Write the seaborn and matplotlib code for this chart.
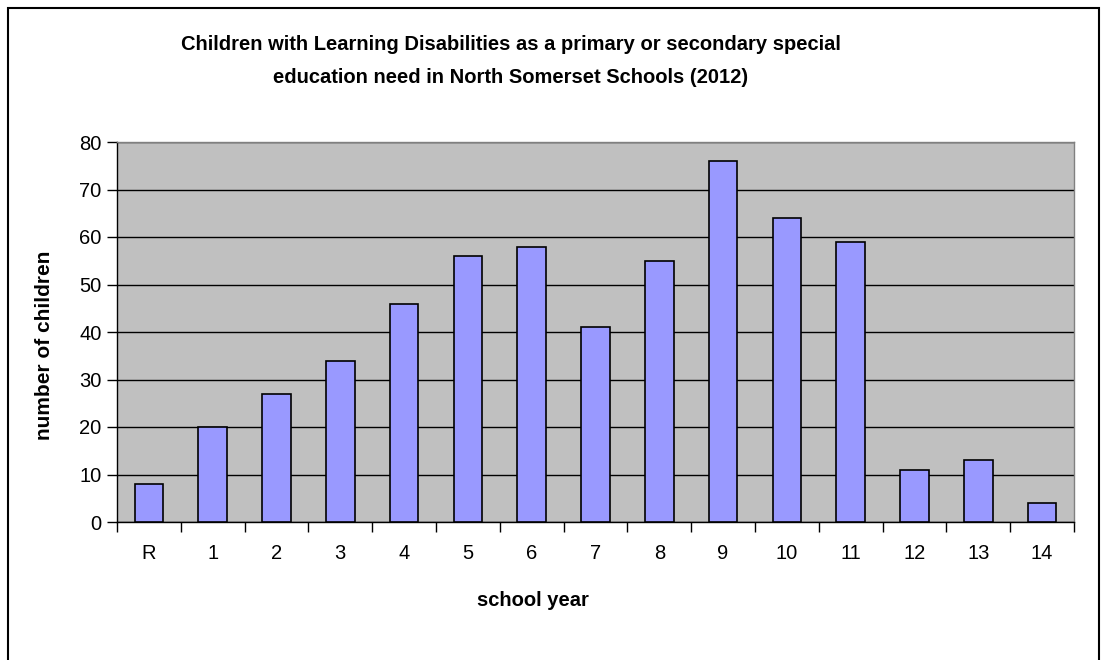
import matplotlib
matplotlib.use("Agg")
import matplotlib.pyplot as plt
import seaborn as sns
import pandas as pd
from matplotlib.patches import Rectangle

# values
years = ["R", "1", "2", "3", "4", "5", "6", "7", "8", "9", "10", "11", "12", "13", "14"]
children = [8, 20, 27, 34, 46, 56, 58, 41, 55, 76, 64, 59, 11, 13, 4]

title = ("Children with Learning Disabilities as a primary or secondary special\n"
         "education need in North Somerset Schools (2012)")

sns.set_style("white")
plt.rcParams["font.family"] = ["Liberation Sans", "DejaVu Sans"]
plt.rcParams["text.color"] = "black"
plt.rcParams["xtick.color"] = "black"
plt.rcParams["ytick.color"] = "black"

df = pd.DataFrame({"year": years, "children": children})

W, H = 1107, 660
fig = plt.figure(figsize=(W / 100, H / 100), dpi=100)
ax = fig.add_axes([117 / W, 1 - 522 / H, (1074 - 117) / W, (522 - 142) / H])
ax.set_facecolor("#C0C0C0")

sns.barplot(data=df, x="year", y="children", order=years, color="#9999FF",
            saturation=1, width=0.45, edgecolor="black", linewidth=1.2, ax=ax, zorder=3)

ax.set_ylim(0, 80)
ax.set_yticks(range(0, 81, 10))
ax.set_xlim(-0.5, len(years) - 0.5)
ax.yaxis.grid(True, color="black", linewidth=1, zorder=1)
ax.set_axisbelow(True)

# category boundaries get the tick marks, labels sit in the middle
ax.set_xticks([i - 0.5 for i in range(len(years) + 1)], minor=True)
ax.tick_params(axis="x", which="major", length=0, labelsize=14.5, pad=16)
ax.tick_params(axis="x", which="minor", length=7, width=1, color="black", direction="out")
ax.tick_params(axis="y", length=7, width=1, color="black", direction="out", labelsize=14.5, pad=4)
ax.xaxis.set_ticks_position("bottom")
ax.yaxis.set_ticks_position("left")

for side in ["left", "bottom"]:
    ax.spines[side].set_color("black")
    ax.spines[side].set_linewidth(1)
for side in ["top", "right"]:
    ax.spines[side].set_color("#808080")
    ax.spines[side].set_linewidth(1)

ax.set_xlabel("")
ax.set_ylabel("")
fig.text(533 / W, 1 - 600 / H, "school year", ha="center", va="center",
         fontsize=14.5, fontweight="bold")
fig.text(45 / W, 1 - 345 / H, "number of children", ha="center", va="center",
         rotation=90, fontsize=15, fontweight="bold")
fig.text(511 / W, 1 - 61 / H, title, ha="center", va="center",
         fontsize=14.5, fontweight="bold", linespacing=1.95)

# outer chart frame
fig.patches.append(Rectangle((8 / W, -0.05), (1099 - 8) / W, 1.05 - 8 / H,
                             transform=fig.transFigure, fill=False,
                             edgecolor="black", linewidth=1.5))

fig.savefig("out.png", dpi=100)
